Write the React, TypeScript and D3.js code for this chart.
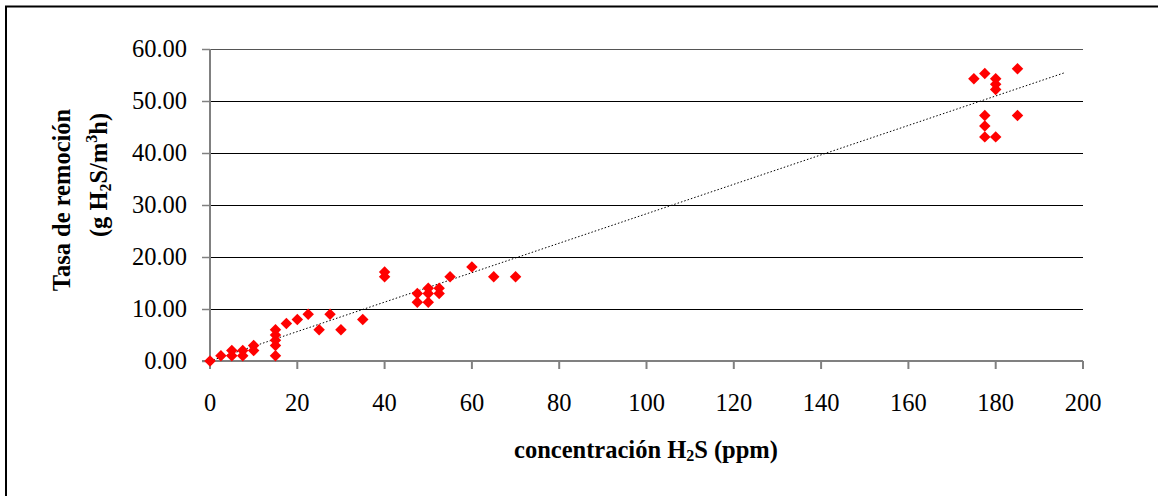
import React from "react";
import * as d3 from "d3";

const xValues = [0, 2.5, 5, 5, 7.5, 7.5, 10, 10, 15, 15, 15, 15, 15, 17.5, 20, 22.5, 25, 27.5, 30, 35, 40, 40, 47.5, 47.5, 50, 50, 50, 52.5, 52.5, 55, 60, 65, 70, 175, 177.5, 180, 180, 180, 185, 177.5, 177.5, 177.5, 180, 185];
const yValues = [0, 1, 2, 1, 2, 1, 3, 2, 6, 5, 4, 3, 1, 7.2, 8, 9, 6, 9, 6, 8, 17.1, 16.2, 13, 11.3, 14, 13, 11.3, 14, 13, 16.2, 18.1, 16.2, 16.2, 54.3, 55.3, 54.3, 53.2, 52.2, 56.2, 47.2, 45.2, 43.1, 43.1, 47.2];
const trendX = [0, 196];
const trendY = [0, 55.5];
const xTicks = [0, 20, 40, 60, 80, 100, 120, 140, 160, 180, 200];
const yTicks = [0, 10, 20, 30, 40, 50, 60];

const W = 1158, H = 496;
const left = 210, right = 1083, top = 49, bottom = 361;
const FONT = "Liberation Serif";
const FS = 24.5;
const SUB = 16;

export default function App() {
  const x = d3.scaleLinear().domain([0, 200]).range([left, right]);
  const y = d3.scaleLinear().domain([0, 60]).range([bottom, top]);
  const line = d3.line<number>().x((d, i) => x(trendX[i])).y((d, i) => y(trendY[i]));
  const diamond = d3.symbol().type(d3.symbolDiamond2).size(84)();
  const ts = { fontFamily: FONT };
  return (
    <svg width={W} height={H} style={{ position: "absolute", left: 0, top: 0, background: "#fff" }}>
      <rect x={0} y={0} width={W} height={H} fill="#fff" />
      {/* frame */}
      <path d={`M6,${H + 5} V6.5 H${W + 5}`} fill="none" stroke="#000" strokeWidth={2} />
      {/* gridlines */}
      {yTicks.filter((t) => t > 0).map((t) => (
        <line key={"g" + t} x1={left - 8} x2={right} y1={Math.round(y(t)) + 0.5} y2={Math.round(y(t)) + 0.5} stroke={t === 60 ? "#555" : "#000"} strokeWidth={1} />
      ))}
      {/* y axis */}
      <line x1={left} x2={left} y1={top} y2={bottom} stroke="#808080" strokeWidth={2} />
      {yTicks.map((t) => (
        <line key={"yt" + t} x1={left - 8} x2={left} y1={Math.round(y(t)) + 0.5} y2={Math.round(y(t)) + 0.5} stroke="#808080" strokeWidth={1.5} />
      ))}
      {yTicks.map((t) => (
        <text key={"yl" + t} x={187} y={y(t) + 8} textAnchor="end" fontSize={FS} fill="#000" style={ts}>
          {d3.format(".2f")(t)}
        </text>
      ))}
      {/* x axis */}
      <line x1={left - 8} x2={right} y1={bottom} y2={bottom} stroke="#808080" strokeWidth={2} />
      {xTicks.map((t) => (
        <line key={"xt" + t} x1={x(t)} x2={x(t)} y1={bottom} y2={bottom + 8} stroke="#808080" strokeWidth={2} />
      ))}
      {xTicks.map((t) => (
        <text key={"xl" + t} x={x(t)} y={411} textAnchor="middle" fontSize={FS} fill="#000" style={ts}>
          {t}
        </text>
      ))}
      {/* trend line */}
      <path d={line(trendX) || ""} fill="none" stroke="#000" strokeWidth={1} strokeDasharray="1.5,2" />
      {/* points */}
      {xValues.map((v, i) => (
        <path key={"p" + i} d={diamond || ""} transform={`translate(${x(v)},${y(yValues[i])})`} fill="#ff0000" />
      ))}
      {/* axis titles */}
      <text x={646} y={458} textAnchor="middle" fontSize={FS} fontWeight="bold" fill="#000" style={ts}>
        concentración H<tspan fontSize={SUB} dy="3">2</tspan><tspan dy="-3">S (ppm)</tspan>
      </text>
      <text transform="translate(70,200) rotate(-90)" textAnchor="middle" fontSize={FS} fontWeight="bold" fill="#000" style={ts}>
        Tasa de remoción
      </text>
      <text transform="translate(107,175) rotate(-90)" textAnchor="middle" fontSize={FS} fontWeight="bold" fill="#000" style={ts}>
        (g H<tspan fontSize={SUB} dy="4">2</tspan><tspan dy="-4">S/m</tspan><tspan fontSize={SUB} dy="-10">3</tspan><tspan dy="10">h)</tspan>
      </text>
    </svg>
  );
}
